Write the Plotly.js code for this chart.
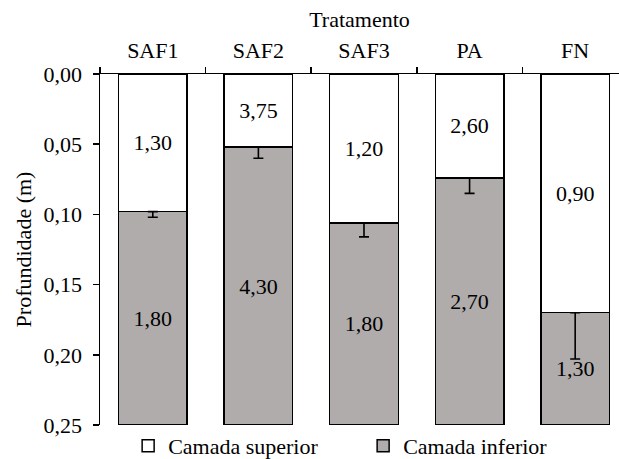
<!DOCTYPE html>
<html>
<head>
<meta charset="utf-8">
<script src="https://cdn.plot.ly/plotly-3.0.1.min.js"></script>
<style>html,body{margin:0;padding:0;background:#fff;}#chart{width:619px;height:459px;}</style>
</head>
<body>
<div id="chart"></div>
<script>
// Data
var tratamentos = ["SAF1", "SAF2", "SAF3", "PA", "FN"];
var profundidadeLimite = [0.098, 0.052, 0.106, 0.074, 0.170]; // depth where lower layer starts (m)
var profundidadeTotal = 0.25;
var erroLimite = [0.004, 0.008, 0.010, 0.011, 0.033];
var rotulosSuperior = ["1,30", "3,75", "1,20", "2,60", "0,90"];
var rotulosInferior = ["1,80", "4,30", "1,80", "2,70", "1,30"];

var espessuraInferior = profundidadeLimite.map(function (d) { return profundidadeTotal - d; });
var zeros = profundidadeLimite.map(function () { return 0; });

var fontFamily = "Liberation Serif";
var fs = 22;

var traces = [
  {
    type: "bar",
    name: "Camada superior",
    x: tratamentos,
    y: profundidadeLimite,
    text: rotulosSuperior,
    textposition: "inside",
    insidetextanchor: "middle",
    constraintext: "none",
    textangle: 0,
    textfont: {family: fontFamily, size: fs, color: "#000"},
    marker: {color: "#ffffff", line: {color: "#000", width: 1.5}},
    width: 0.65,
    hoverinfo: "skip"
  },
  {
    type: "bar",
    name: "Camada inferior",
    x: tratamentos,
    y: espessuraInferior,
    text: rotulosInferior,
    textposition: "inside",
    insidetextanchor: "middle",
    constraintext: "none",
    textangle: 0,
    textfont: {family: fontFamily, size: fs, color: "#000"},
    marker: {color: "#b0acab", line: {color: "#000", width: 1.5}},
    width: 0.65,
    hoverinfo: "skip"
  },
  {
    type: "scatter",
    mode: "markers",
    x: tratamentos,
    y: profundidadeLimite,
    marker: {opacity: 0, size: 1},
    showlegend: false,
    hoverinfo: "skip",
    error_y: {
      type: "data",
      symmetric: false,
      array: erroLimite,
      arrayminus: zeros,
      color: "#000",
      thickness: 1.6,
      width: 5
    }
  }
];

var layout = {
  width: 619,
  height: 459,
  margin: {l: 100, r: 0, t: 74, b: 34, autoexpand: false},
  paper_bgcolor: "#fff",
  plot_bgcolor: "#fff",
  separators: ", ",
  barmode: "stack",
  font: {family: fontFamily, size: fs, color: "#000"},
  showlegend: true,
  legend: {
    orientation: "h",
    traceorder: "normal",
    x: 0.507,
    xanchor: "center",
    y: 0.0,
    yanchor: "top",
    bgcolor: "rgba(0,0,0,0)",
    font: {family: fontFamily, size: fs, color: "#000"},
    itemwidth: 30,
    entrywidth: 190,
    tracegroupgap: 0
  },
  xaxis: {
    side: "top",
    type: "category",
    range: [-0.5, 4.415],
    showline: true,
    linecolor: "#000",
    linewidth: 1.5,
    ticks: "outside",
    tickson: "boundaries",
    ticklen: 6,
    tickwidth: 1.5,
    tickcolor: "#000",
    ticklabelstandoff: 6,
    showgrid: false,
    zeroline: false,
    automargin: false,
    tickfont: {family: fontFamily, size: fs, color: "#000"},
    title: {text: "Tratamento", font: {family: fontFamily, size: fs, color: "#000"}, standoff: 4}
  },
  yaxis: {
    range: [profundidadeTotal, 0],
    tickvals: [0, 0.05, 0.10, 0.15, 0.20, 0.25],
    tickformat: ".2f",
    showline: true,
    linecolor: "#000",
    linewidth: 1.5,
    ticks: "outside",
    ticklen: 6,
    tickwidth: 1.5,
    tickcolor: "#000",
    ticklabelstandoff: 6,
    showgrid: false,
    zeroline: false,
    automargin: false,
    tickfont: {family: fontFamily, size: fs, color: "#000"},
    title: {text: "Profundidade (m)", font: {family: fontFamily, size: fs, color: "#000"}, standoff: 6}
  }
};

Plotly.newPlot("chart", traces, layout, {displayModeBar: false, staticPlot: true});
</script>
</body>
</html>
